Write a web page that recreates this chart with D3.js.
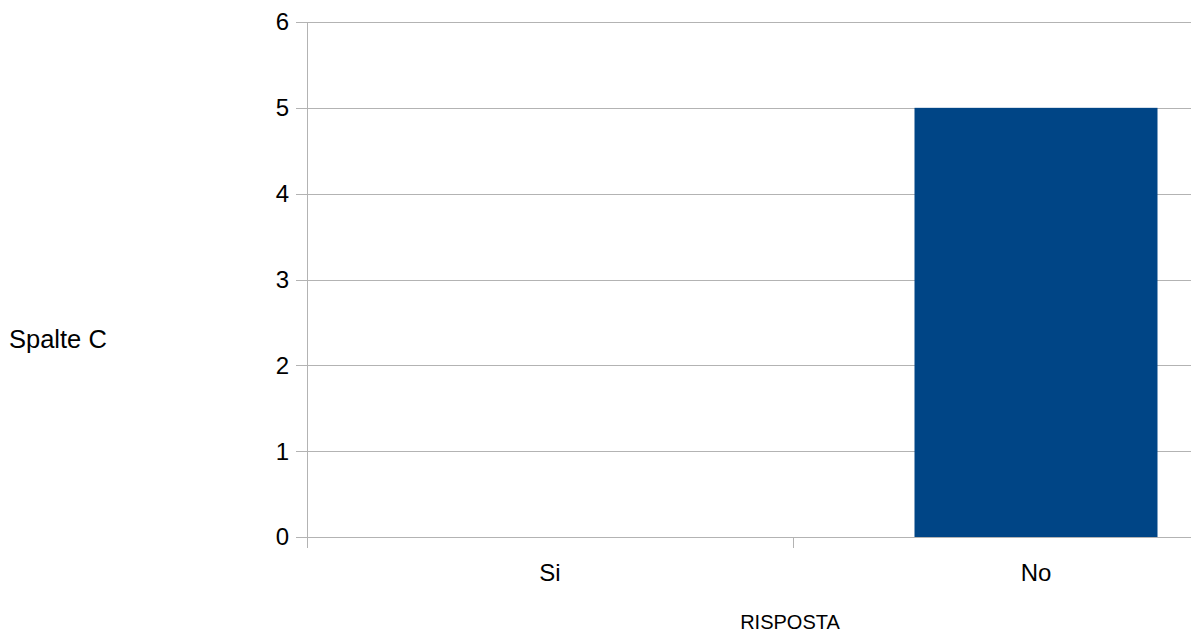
<!DOCTYPE html>
<html><head><meta charset="utf-8">
<script src="https://cdn.jsdelivr.net/npm/d3@7"></script>
<style>body{margin:0;background:#fff}svg{display:block}</style>
</head><body>
<svg id="chart" width="1191" height="634"></svg>
<script>
const categories = ["Si", "No"];
const values = [0, 5];
const yTicks = [0, 1, 2, 3, 4, 5, 6];
const seriesName = "Spalte C";
const xTitle = "RISPOSTA";

(function () {
const svg = d3.select("#chart");
const pLeft = 307, pRight = 1279, pTop = 22, pBottom = 537;
const font = "'Liberation Sans', Arial, sans-serif";

const x = d3.scaleBand().domain(categories).range([pLeft, pRight]).paddingInner(0).paddingOuter(0);
const y = d3.scaleLinear().domain([0, 6]).range([pBottom, pTop]);

// gridlines
svg.append("g").selectAll("line").data(yTicks).join("line")
  .attr("x1", pLeft - 11).attr("x2", pRight)
  .attr("y1", d => Math.round(y(d)) + 0.5).attr("y2", d => Math.round(y(d)) + 0.5)
  .attr("stroke", "#b3b3b3").attr("stroke-width", 1);

// y axis line
svg.append("line").attr("x1", pLeft + 0.5).attr("x2", pLeft + 0.5)
  .attr("y1", pTop).attr("y2", pBottom + 11).attr("stroke", "#b3b3b3");

// category boundary ticks
svg.append("g").selectAll("line").data(categories.slice(1)).join("line")
  .attr("x1", d => Math.round(x(d)) + 0.5).attr("x2", d => Math.round(x(d)) + 0.5)
  .attr("y1", pBottom).attr("y2", pBottom + 11).attr("stroke", "#b3b3b3");

// bars
const bw = x.bandwidth() / 2;
svg.append("g").selectAll("rect").data(categories.map((c, i) => ({c, v: values[i]}))).join("rect")
  .attr("x", d => x(d.c) + x.bandwidth() / 4)
  .attr("width", bw)
  .attr("y", d => y(d.v))
  .attr("height", d => y(0) - y(d.v))
  .attr("fill", "#004586");

// y labels
svg.append("g").selectAll("text").data(yTicks).join("text")
  .attr("x", 289).attr("y", d => y(d))
  .attr("dy", "0.35em").attr("text-anchor", "end")
  .attr("font-family", font).attr("font-size", 24).attr("fill", "#000")
  .text(d => d);

// x labels
svg.append("g").selectAll("text").data(categories).join("text")
  .attr("x", d => x(d) + x.bandwidth() / 2).attr("y", 581)
  .attr("text-anchor", "middle")
  .attr("font-family", font).attr("font-size", 24).attr("fill", "#000")
  .text(d => d);

// x title
svg.append("text").attr("x", 790).attr("y", 629)
  .attr("text-anchor", "middle")
  .attr("font-family", font).attr("font-size", 20).attr("fill", "#000")
  .text(xTitle);

// legend / series name
svg.append("text").attr("x", 9).attr("y", 348)
  .attr("font-family", font).attr("font-size", 25.5).attr("fill", "#000")
  .text(seriesName);
})();
</script>
</body></html>
